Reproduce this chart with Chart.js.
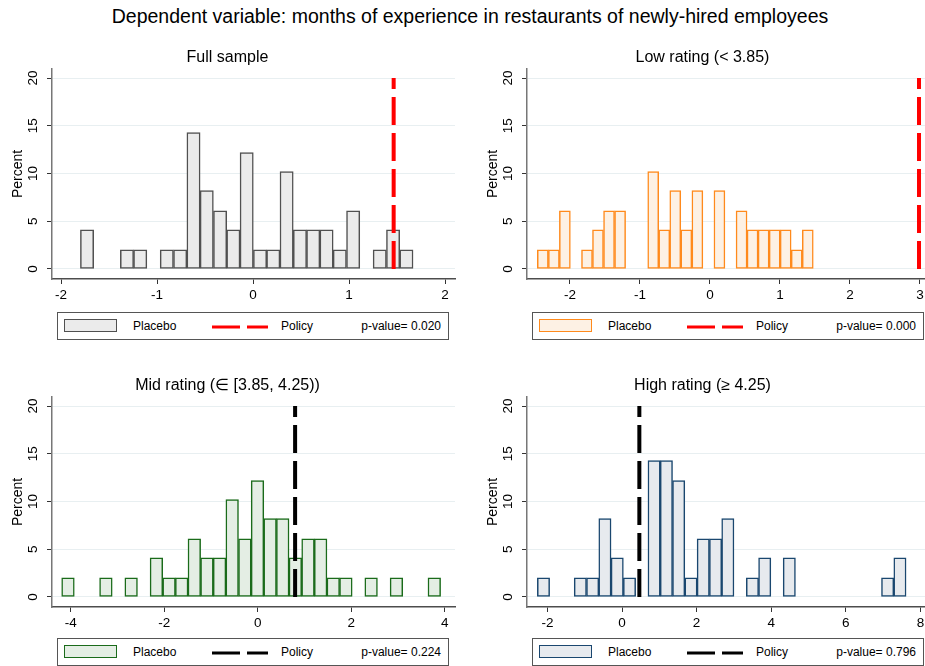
<!DOCTYPE html>
<html>
<head>
<meta charset="utf-8">
<script src="https://cdn.jsdelivr.net/npm/chart.js@4.4.1/dist/chart.umd.min.js"></script>
<style>
  html, body { margin: 0; padding: 0; background: #fff; }
  body { width: 925px; height: 666px; overflow: hidden; position: relative;
         font-family: "Liberation Sans", Arial, sans-serif; color: #000; }
  #title { position: absolute; left: 0; top: 7px; width: 940px; text-align: center;
           font-size: 19.5px; line-height: 1; white-space: nowrap; }
  canvas { position: absolute; }
  .legend { position: absolute; width: 390px; height: 26px; border: 1px solid #555; background: #fff;
            font-size: 12px; }
  .legend span { position: absolute; top: 6px; line-height: 14px; white-space: nowrap; }
  .legend .sw { top: 6px; left: 6px; width: 51px; height: 11px; }
  .legend svg { position: absolute; left: 154px; top: 11px; }
</style>
</head>
<body>
<div id="title">Dependent variable: months of experience in restaurants of newly-hired employees</div>
<canvas id="full" width="462" height="270" style="left:0;top:40px"></canvas>
<canvas id="low" width="462" height="270" style="left:475px;top:40px"></canvas>
<canvas id="mid" width="462" height="270" style="left:0;top:368px"></canvas>
<canvas id="high" width="462" height="270" style="left:475px;top:368px"></canvas>

<script>
// Histogram bins (bin centre) and heights in percent
const fullCenters = [-1.729, -1.313, -1.175, -0.898, -0.759, -0.620, -0.482, -0.343, -0.205, -0.066, 0.073, 0.211, 0.350, 0.489, 0.627, 0.766, 0.904, 1.043, 1.320, 1.459, 1.598];
const fullPercent = [4.1, 2.0, 2.0, 2.0, 2.0, 14.3, 8.2, 6.1, 4.1, 12.2, 2.0, 2.0, 10.2, 4.1, 4.1, 4.1, 2.0, 6.1, 2.0, 4.1, 2.0];

const lowCenters = [-2.388, -2.230, -2.073, -1.757, -1.600, -1.442, -1.284, -0.811, -0.653, -0.496, -0.338, -0.180, 0.135, 0.451, 0.608, 0.766, 0.924, 1.081, 1.239, 1.397];
const lowPercent = [2.0, 2.0, 6.1, 2.0, 4.1, 6.1, 6.1, 10.2, 4.1, 8.2, 4.1, 8.2, 8.2, 6.1, 4.1, 4.1, 4.1, 4.1, 2.0, 4.1];

const midCenters = [-4.058, -3.247, -2.707, -2.167, -1.896, -1.626, -1.356, -1.086, -0.816, -0.546, -0.275, -0.005, 0.265, 0.535, 0.805, 1.076, 1.346, 1.616, 1.886, 2.426, 2.967, 3.777];
const midPercent = [2.0, 2.0, 2.0, 4.1, 2.0, 2.0, 6.1, 4.1, 4.1, 10.2, 6.1, 12.2, 8.2, 8.2, 4.1, 6.1, 6.1, 2.0, 2.0, 2.0, 2.0, 2.0];

const highCenters = [-2.105, -1.117, -0.787, -0.458, -0.128, 0.201, 0.860, 1.190, 1.519, 1.849, 2.178, 2.508, 2.837, 3.497, 3.826, 4.485, 7.121, 7.451];
const highPercent = [2.0, 2.0, 2.0, 8.2, 4.1, 2.0, 14.3, 14.3, 12.2, 2.0, 6.1, 6.1, 8.2, 2.0, 4.1, 4.1, 2.0, 4.1];

// Policy estimates and p-values
const fullPolicy = 1.465, lowPolicy = 2.986, midPolicy = 0.80, highPolicy = 0.465;
const fullP = '0.020', lowP = '0.000', midP = '0.224', highP = '0.796';

// Tick labels
const percentTicks = [0, 5, 10, 15, 20];
const fullTicks = [-2, -1, 0, 1, 2];
const lowTicks = [-2, -1, 0, 1, 2, 3];
const midTicks = [-4, -2, 0, 2, 4];
const highTicks = [-2, 0, 2, 4, 6, 8];

Chart.defaults.font.family = '"Liberation Sans", Arial, sans-serif';
Chart.defaults.color = '#000';

const panels = [
  { id: 'full', title: 'Full sample', centers: fullCenters, values: fullPercent, policy: fullPolicy, p: fullP,
    ticks: fullTicks, xmin: -2.094, xmax: 2.104, edge: '#505050', fill: '#ebebeb', line: '#ff0000',
    legendLeft: 57, legendTop: 312 },
  { id: 'low', title: 'Low rating (< 3.85)', centers: lowCenters, values: lowPercent, policy: lowPolicy, p: lowP,
    ticks: lowTicks, xmin: -2.614, xmax: 3.143, edge: '#ff8a1c', fill: '#fdf1e4', line: '#ff0000',
    legendLeft: 532, legendTop: 312 },
  { id: 'mid', title: 'Mid rating (\u2208 [3.85, 4.25))', centers: midCenters, values: midPercent, policy: midPolicy, p: midP,
    ticks: midTicks, xmin: -4.40, xmax: 4.22, edge: '#1a6b1a', fill: '#e4eee4', line: '#000000',
    legendLeft: 57, legendTop: 638 },
  { id: 'high', title: 'High rating (\u2265 4.25)', centers: highCenters, values: highPercent, policy: highPolicy, p: highP,
    ticks: highTicks, xmin: -2.547, xmax: 8.257, edge: '#1a476f', fill: '#e7eaee', line: '#000000',
    legendLeft: 532, legendTop: 638 }
];

function makePanel(p) {
  new Chart(document.getElementById(p.id), {
    type: 'bar',
    data: {
      datasets: [
        {
          type: 'line',
          label: 'Policy',
          data: [{ x: p.policy, y: 0 }, { x: p.policy, y: 20 }],
          borderColor: p.line,
          borderWidth: 4,
          borderDash: [28, 8],
          borderCapStyle: 'butt',
          pointRadius: 0,
          order: 0
        },
        {
          label: 'Placebo',
          data: p.centers.map((c, i) => ({ x: c, y: p.values[i] })),
          backgroundColor: p.fill,
          borderColor: p.edge,
          borderWidth: 1.5,
          borderSkipped: false,
          barPercentage: 1,
          categoryPercentage: 1,
          order: 1
        }
      ]
    },
    options: {
      responsive: false,
      animation: false,
      layout: { padding: { top: 7.5, right: 7, bottom: 0, left: 0 } },
      plugins: {
        legend: { display: false },
        tooltip: { enabled: false },
        title: {
          display: true,
          text: p.title,
          font: { size: 16, weight: 'normal' },
          padding: { top: 0, bottom: 2.3 }
        }
      },
      scales: {
        x: {
          type: 'linear',
          min: p.xmin,
          max: p.xmax,
          offset: false,
          afterBuildTicks: s => { s.ticks = p.ticks.map(v => ({ value: v })); },
          afterFit: s => { s.height = 31; },
          grid: { offset: false, drawOnChartArea: false, tickLength: 5, tickColor: '#333' },
          border: { color: '#4d4d4d', width: 1.5 },
          ticks: { font: { size: 13.5 }, padding: 3, maxRotation: 0 }
        },
        y: {
          min: -1.05,
          max: 20.95,
          afterBuildTicks: s => { s.ticks = percentTicks.map(v => ({ value: v })); },
          afterFit: s => { s.width = 52; },
          grid: { color: '#e8eff1', tickColor: '#333', tickLength: 5 },
          border: { color: '#777', width: 1.5 },
          ticks: { font: { size: 13.5 }, minRotation: 90, maxRotation: 90, crossAlign: 'center', padding: 6 },
          title: { display: true, text: 'Percent', font: { size: 14 }, padding: { top: 9.4, bottom: 0 } }
        }
      }
    }
  });
}

function makeLegend(p) {
  const box = document.createElement('div');
  box.className = 'legend';
  box.style.left = p.legendLeft + 'px';
  box.style.top = p.legendTop + 'px';
  box.innerHTML =
    '<span class="sw" style="background:' + p.fill + ';border:1.5px solid ' + p.edge + '"></span>' +
    '<span style="left:75px">Placebo</span>' +
    '<svg width="56" height="6"><line x1="0" y1="3" x2="56" y2="3" stroke="' + p.line +
    '" stroke-width="3" stroke-dasharray="28 7"/></svg>' +
    '<span style="left:223px">Policy</span>' +
    '<span style="right:7px">p-value= ' + p.p + '</span>';
  document.body.appendChild(box);
}

panels.forEach(p => { makePanel(p); makeLegend(p); });
</script>
</body>
</html>
